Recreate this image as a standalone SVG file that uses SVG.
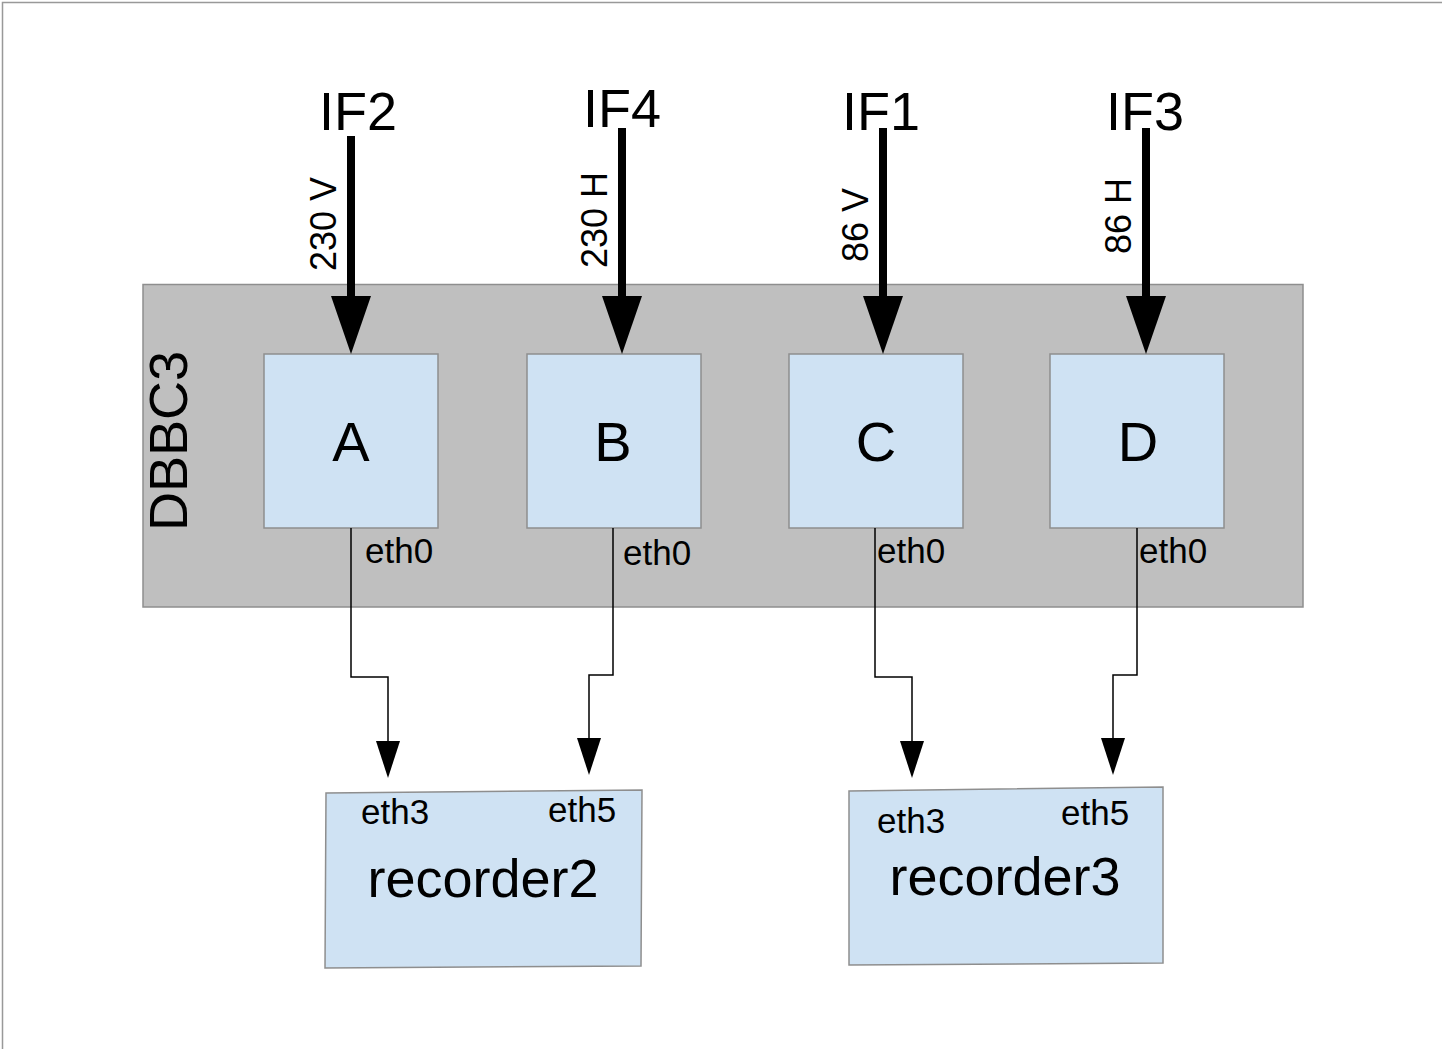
<svg xmlns="http://www.w3.org/2000/svg" width="1442" height="1049" viewBox="0 0 1442 1049">
<style>
text{font-family:"Liberation Sans",Arial,sans-serif;fill:#000}
.blk{fill:#cfe2f3;stroke:#8e8e8e;stroke-width:1.5}
.big{stroke:#000;stroke-width:8;fill:none}
.thin{stroke:#000;stroke-width:1.5;fill:none}
.ifl{font-size:54px;text-anchor:middle}
.rot{font-size:36px;text-anchor:middle}
.let{font-size:56px;text-anchor:middle}
.eth{font-size:35px}
.rec{font-size:54px;text-anchor:middle}
</style>
<defs>
<marker id="bigHead" markerUnits="userSpaceOnUse" markerWidth="58" markerHeight="40" viewBox="0 0 58 40" refX="0" refY="20" orient="auto"><path d="M0,0 L58,20 L0,40 z" fill="#000"/></marker>
<marker id="smallHead" markerUnits="userSpaceOnUse" markerWidth="37" markerHeight="24" viewBox="0 0 37 24" refX="0" refY="12" orient="auto"><path d="M0,0 L37,12 L0,24 z" fill="#000"/></marker>
</defs>
<rect width="1442" height="1049" fill="#fff"/>
<path d="M2.5,1049 V2.5 H1442" fill="none" stroke="#999" stroke-width="1.5"/>
<g id="dbbc3">
<rect x="143" y="284.5" width="1160" height="322.5" fill="#bfbfbf" stroke="#8e8e8e" stroke-width="1.5"/>
<text class="rot" style="font-size:54px" transform="translate(187,441) rotate(-90)">DBBC3</text>
</g>
<g id="nodeA"><rect class="blk" x="264" y="354" width="174" height="174"/><text class="let" x="351" y="461">A</text><text class="eth" x="365" y="563">eth0</text></g>
<g id="nodeB"><rect class="blk" x="527" y="354" width="174" height="174"/><text class="let" x="613" y="461">B</text><text class="eth" x="623" y="565">eth0</text></g>
<g id="nodeC"><rect class="blk" x="789" y="354" width="174" height="174"/><text class="let" x="876" y="461">C</text><text class="eth" x="877" y="563">eth0</text></g>
<g id="nodeD"><rect class="blk" x="1050" y="354" width="174" height="174"/><text class="let" x="1138" y="461">D</text><text class="eth" x="1139" y="563">eth0</text></g>
<g id="recorder2">
<polygon class="blk" points="326,793 642,790 641,966 325,968"/>
<text class="eth" x="361" y="824">eth3</text>
<text class="eth" x="548" y="822">eth5</text>
<text class="rec" x="483" y="897">recorder2</text>
</g>
<g id="recorder3">
<polygon class="blk" points="849,791 1163,787 1163,963 849,965"/>
<text class="eth" x="877" y="833">eth3</text>
<text class="eth" x="1061" y="825">eth5</text>
<text class="rec" x="1005" y="895">recorder3</text>
</g>
<g id="inputs">
<text class="ifl" x="358" y="130">IF2</text>
<text class="ifl" x="622" y="127">IF4</text>
<text class="ifl" x="881" y="130">IF1</text>
<text class="ifl" x="1145" y="130">IF3</text>
<text class="rot" transform="translate(336,224) rotate(-90)">230 V</text>
<text class="rot" transform="translate(607,220) rotate(-90)">230 H</text>
<text class="rot" transform="translate(868,225) rotate(-90)">86 V</text>
<text class="rot" transform="translate(1131,216) rotate(-90)">86 H</text>
</g>
<g id="connectors">
<path class="big" d="M351,136 V296" marker-end="url(#bigHead)"/>
<path class="big" d="M622,128 V296" marker-end="url(#bigHead)"/>
<path class="big" d="M883,128 V296" marker-end="url(#bigHead)"/>
<path class="big" d="M1146,128 V296" marker-end="url(#bigHead)"/>
<path class="thin" d="M351,528 V677 H388 V741" marker-end="url(#smallHead)"/>
<path class="thin" d="M613,528 V675 H589 V738" marker-end="url(#smallHead)"/>
<path class="thin" d="M875,528 V677 H912 V741" marker-end="url(#smallHead)"/>
<path class="thin" d="M1137,528 V675 H1113 V738" marker-end="url(#smallHead)"/>
</g>
</svg>
